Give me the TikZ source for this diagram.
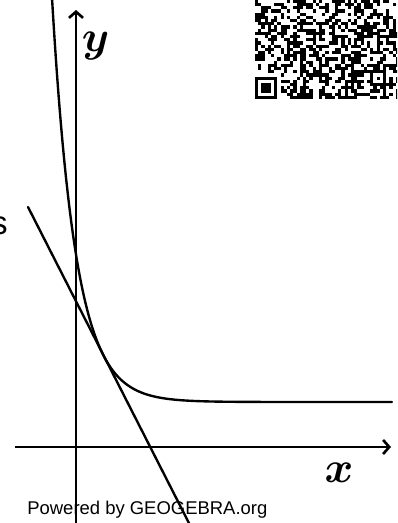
\documentclass[tikz,border=0pt]{standalone}
\usepackage{amsmath}
\usepackage{fontspec}
\setmainfont{Liberation Sans}
\usepackage{tikz}
\usetikzlibrary{arrows.meta}

\tikzset{
    axis/.style={line width=1.5pt, -{Straight Barb[length=3.5pt,width=8pt]}},
    graph/.style={line width=1.35pt, line cap=round},
    axislabel/.style={inner sep=0pt, font=\fontsize{25}{30}\selectfont}
}

\begin{document}
\begin{tikzpicture}
    \useasboundingbox (-1.52,-1.52) rectangle (6.42,8.94);
    \clip (-1.52,-1.52) rectangle (6.42,8.94);
    \coordinate (xl) at (-1.22,0);
    \coordinate (xr) at (6.3,0);
    \coordinate (yb) at (0,-1.6);
    \coordinate (yt) at (0,8.74);
    \draw[axis] (xl) -- (xr);
    \draw[axis] (yb) -- (yt);
    \node[axislabel] (ylab) at (0.39,8.02) {$\boldsymbol{y}$};
    \node[axislabel] (xlab) at (5.26,-0.52) {$\boldsymbol{x}$};
    \draw[graph, domain=-0.5:6.32, samples=200, smooth] plot (\x, {0.9+2.95*exp(-2.1*\x)});
    \coordinate (tA) at (-0.96,4.8);
    \coordinate (tB) at (2.35,-1.7);
    \draw[graph] (tA) -- (tB);
    \begin{scope}[shift={(3.58,6.96)}, x=0.064cm, y=0.064cm]
        \pgfmathsetseed{21}
        \foreach \c in {0,...,44} {
            \foreach \r in {0,...,30} {
                \pgfmathrandominteger{\bit}{0}{1}
                \ifnum\bit=1 \fill (\c,\r) rectangle +(1.02,1.02); \fi
            }
        }
        \fill[white] (0,0) rectangle (8,8);
        \fill (0,0) rectangle (7,7);
        \fill[white] (1,1) rectangle (6,6);
        \fill (2,2) rectangle (5,5);
        \fill (36,4) rectangle (41,9);
        \fill[white] (37,5) rectangle (40,8);
        \fill (38,6) rectangle (39,7);
    \end{scope}
    \node[font=\fontsize{18.8}{22}\selectfont, anchor=base east, inner sep=0pt] (cut) at (-1.36,4.24) {s};
    \node[font=\fontsize{10.5}{12}\selectfont, anchor=base west, inner sep=0pt] (credit) at (-0.98,-1.34) {Powered by GEOGEBRA.org};
\end{tikzpicture}
\end{document}
